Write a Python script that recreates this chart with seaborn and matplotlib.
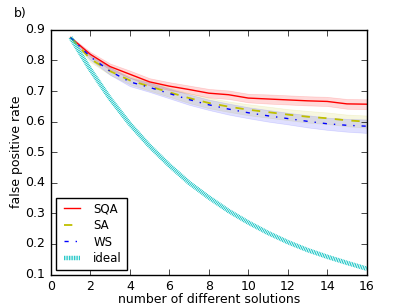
import numpy as np
import pandas as pd
import matplotlib
matplotlib.use("Agg")
import matplotlib.pyplot as plt
import seaborn as sns

plt.style.use("classic")

n_solutions = list(range(1, 17))
sqa = [0.875, 0.820, 0.780, 0.755, 0.730, 0.716, 0.705, 0.693, 0.688, 0.677,
       0.674, 0.671, 0.668, 0.666, 0.658, 0.657]
sqa_err = [0.003, 0.008, 0.010, 0.012, 0.012, 0.013, 0.013, 0.014, 0.014, 0.014,
           0.015, 0.015, 0.015, 0.015, 0.016, 0.016]
sa = [0.875, 0.805, 0.765, 0.735, 0.715, 0.696, 0.677, 0.661, 0.649, 0.639,
      0.631, 0.623, 0.616, 0.611, 0.604, 0.600]
sa_err = [0.003, 0.010, 0.012, 0.013, 0.014, 0.015, 0.016, 0.017, 0.017, 0.018,
          0.018, 0.018, 0.019, 0.019, 0.019, 0.020]
ws = [0.875, 0.812, 0.765, 0.730, 0.712, 0.692, 0.672, 0.655, 0.641, 0.629,
      0.619, 0.610, 0.601, 0.593, 0.588, 0.585]
ws_err = [0.003, 0.010, 0.012, 0.014, 0.015, 0.016, 0.017, 0.017, 0.018, 0.018,
          0.019, 0.019, 0.020, 0.020, 0.021, 0.022]
ideal = [0.875, 0.770, 0.675, 0.592, 0.520, 0.457, 0.400, 0.352, 0.308, 0.270,
         0.236, 0.206, 0.180, 0.158, 0.138, 0.119]

plt.rcParams["font.size"] = 9
fig = plt.figure(figsize=(4.07, 3.05), dpi=100, facecolor="white")
ax = fig.add_axes([0.125, 0.1, 0.776, 0.802])

series = [("SQA", sqa, sqa_err, "r", "-", 1.0, 0.15),
          ("SA", sa, sa_err, "y", "--", 1.3, 0.12),
          ("WS", ws, ws_err, "b", "-.", 1.0, 0.12)]
x = np.array(n_solutions)
for name, vals, err, col, ls, lw, a in series:
    vals = np.array(vals); err = np.array(err)
    ax.fill_between(x, vals - err, vals + err, color=col, alpha=a, lw=0.5)
    sns.lineplot(x=x, y=vals, ax=ax, color=col, linestyle=ls, lw=lw, label=name)
sns.lineplot(x=x, y=ideal, ax=ax, color="c", linestyle=(0, (0.6, 0.6)), lw=3.2,
             label="ideal")

ax.set_xlim(0, 16)
ax.set_ylim(0.1, 0.9)
ax.set_xticks(range(0, 17, 2))
ax.set_yticks(np.arange(0.1, 0.91, 0.1))
ax.set_xlabel("number of different solutions", labelpad=0)
ax.set_ylabel("false positive rate", labelpad=2)
ax.tick_params(labelsize=9)
leg = ax.legend(loc="lower left", fontsize=8.5, handlelength=2.0,
                borderaxespad=0.4, labelspacing=0.3, handletextpad=0.8)
leg.get_frame().set_edgecolor("black")
fig.text(0.035, 0.945, "b)", fontsize=9)

fig.savefig("out.png", dpi=100, facecolor="white")
